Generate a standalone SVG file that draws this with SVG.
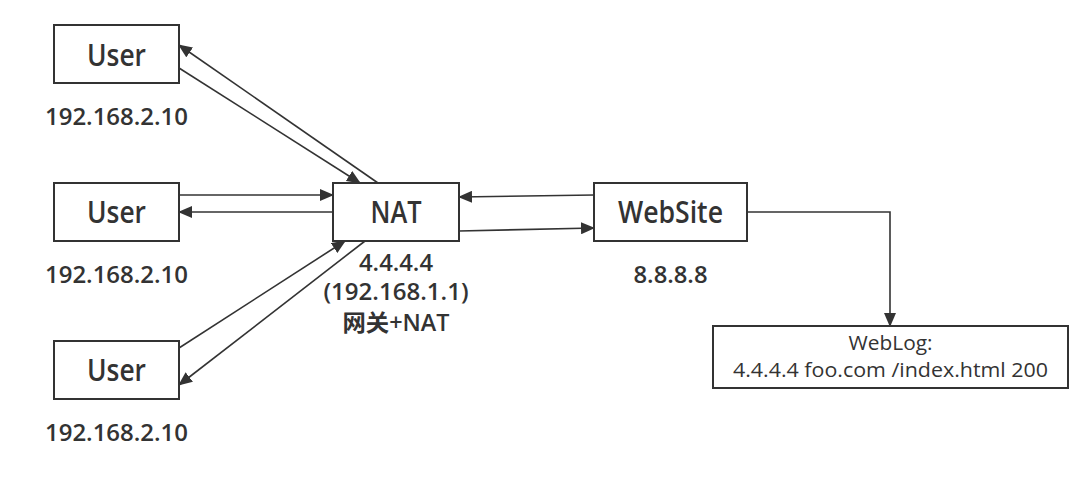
<svg xmlns="http://www.w3.org/2000/svg" width="1092" height="482" viewBox="0 0 1092 482">
<style>
.box{fill:#fff;stroke:#333;stroke-width:2}
.lbl{font-family:"Open Sans","Noto Sans","Noto Sans CJK SC",sans-serif;font-weight:600;fill:#333;text-anchor:middle}
.nt{font-size:30px}
.ip{font-size:23px}
.log{font-family:"Open Sans","Noto Sans",sans-serif;font-size:20px;fill:#333;text-anchor:middle}
.cn{fill:none;stroke:#333;stroke-width:1.6}
</style>
<defs>
<marker id="ah" markerWidth="14" markerHeight="12" refX="13" refY="6" orient="auto" markerUnits="userSpaceOnUse">
<path d="M0,0 L14,6 L0,12 z" fill="#333"/>
</marker>
</defs>
<rect width="1092" height="482" fill="#fff"/>
<g id="connectors">
<line class="cn" x1="378" y1="183" x2="179" y2="45" marker-end="url(#ah)"/>
<line class="cn" x1="179" y1="68" x2="360" y2="183" marker-end="url(#ah)"/>
<line class="cn" x1="179" y1="195" x2="333" y2="195" marker-end="url(#ah)"/>
<line class="cn" x1="333" y1="212" x2="179" y2="212" marker-end="url(#ah)"/>
<line class="cn" x1="179" y1="348" x2="345" y2="241" marker-end="url(#ah)"/>
<line class="cn" x1="365" y1="241" x2="179" y2="385" marker-end="url(#ah)"/>
<line class="cn" x1="594" y1="195" x2="459" y2="197" marker-end="url(#ah)"/>
<line class="cn" x1="459" y1="231" x2="594" y2="228" marker-end="url(#ah)"/>
<polyline class="cn" points="747,212 890,212 890,326" marker-end="url(#ah)"/>
</g>
<g id="user1">
<rect class="box" x="54" y="25" width="125" height="58"/>
<text class="lbl nt" x="116.5" y="66" textLength="59" lengthAdjust="spacingAndGlyphs">User</text>
<text class="lbl ip" x="116.5" y="125" textLength="143" lengthAdjust="spacingAndGlyphs">192.168.2.10</text>
</g>
<g id="user2">
<rect class="box" x="54" y="183" width="125" height="58"/>
<text class="lbl nt" x="116.5" y="223" textLength="59" lengthAdjust="spacingAndGlyphs">User</text>
<text class="lbl ip" x="116.5" y="283" textLength="143" lengthAdjust="spacingAndGlyphs">192.168.2.10</text>
</g>
<g id="user3">
<rect class="box" x="54" y="341" width="125" height="58"/>
<text class="lbl nt" x="116.5" y="381" textLength="59" lengthAdjust="spacingAndGlyphs">User</text>
<text class="lbl ip" x="116.5" y="441" textLength="143" lengthAdjust="spacingAndGlyphs">192.168.2.10</text>
</g>
<g id="nat">
<rect class="box" x="333" y="183" width="126" height="58"/>
<text class="lbl nt" x="396" y="223" textLength="51" lengthAdjust="spacingAndGlyphs">NAT</text>
<text class="lbl ip" x="396" y="271" textLength="74" lengthAdjust="spacingAndGlyphs">4.4.4.4</text>
<text class="lbl ip" x="396" y="300" textLength="145" lengthAdjust="spacingAndGlyphs">(192.168.1.1)</text>
<text class="lbl ip" x="396" y="331" textLength="107" lengthAdjust="spacingAndGlyphs">网关+NAT</text>
</g>
<g id="website">
<rect class="box" x="594" y="183" width="153" height="58"/>
<text class="lbl nt" x="670.5" y="223" textLength="105" lengthAdjust="spacingAndGlyphs">WebSite</text>
<text class="lbl ip" x="670.5" y="283" textLength="74" lengthAdjust="spacingAndGlyphs">8.8.8.8</text>
</g>
<g id="weblog">
<rect class="box" x="713" y="326" width="355" height="62"/>
<text class="log"><tspan x="890.5" y="349.5" textLength="84" lengthAdjust="spacingAndGlyphs">WebLog:</tspan><tspan x="890.5" y="377" textLength="315" lengthAdjust="spacingAndGlyphs">4.4.4.4 foo.com /index.html 200</tspan></text>
</g>
</svg>
